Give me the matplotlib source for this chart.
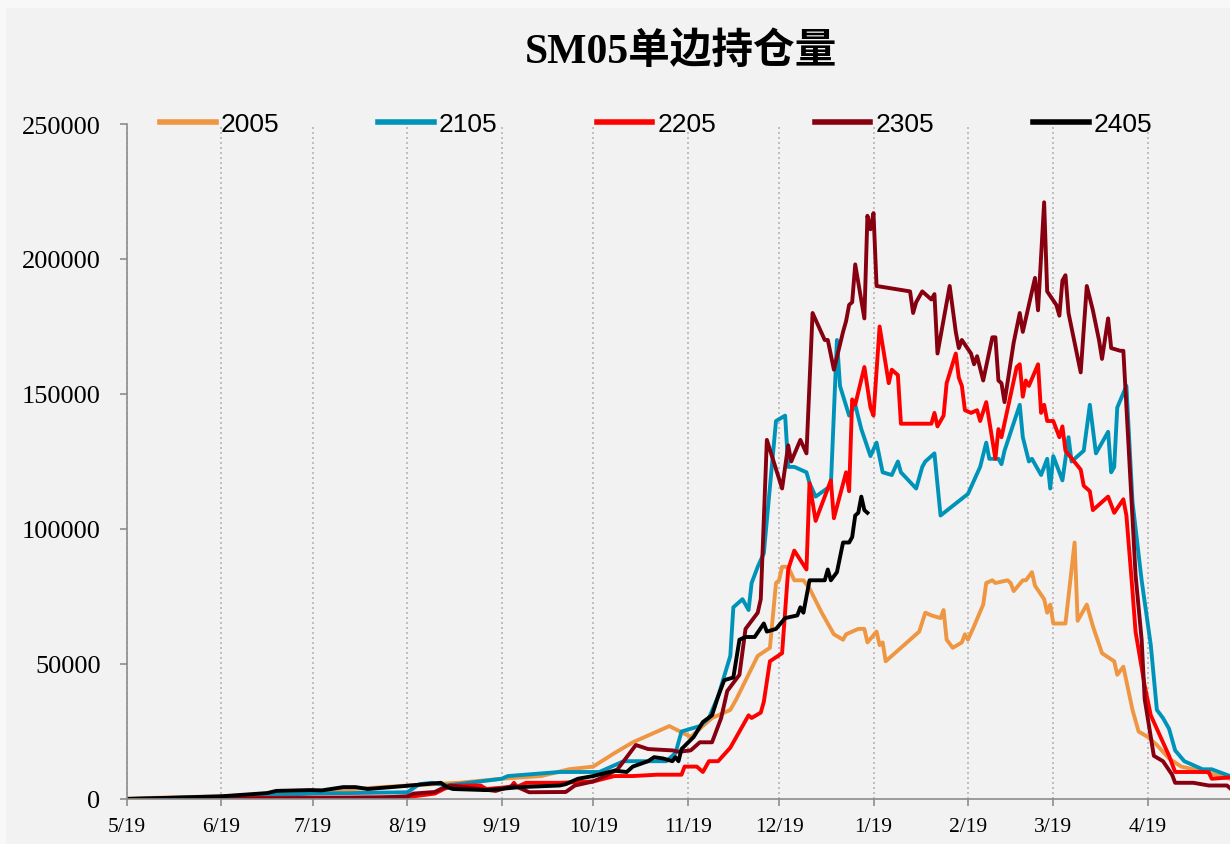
import datetime as dt
import matplotlib
matplotlib.use("Agg")
import matplotlib.pyplot as plt
from matplotlib.patches import Rectangle

# open interest (thousand lots), dates as month/day from 5/19 to 5/16 of next year
dates_2005 = ["5/19","6/19","7/19","7/30","8/19","9/5","9/19","10/2","10/11","10/19",
              "10/26","11/1","11/9","11/13","11/20","11/27","12/3","12/5","12/12","12/16",
              "12/18","12/19","12/20","12/22","12/24","12/27","12/29","1/2","1/6","1/9",
              "1/10","1/14","1/16","1/17","1/20","1/21","1/22","1/23","2/3","2/5",
              "2/7","2/10","2/11","2/12","2/14","2/17","2/18","2/19","2/21","2/24",
              "2/25","2/27","2/28","3/4","3/5","3/6","3/9","3/10","3/12","3/13",
              "3/16","3/17","3/18","3/19","3/23","3/26","3/27","3/30","4/1","4/4",
              "4/8","4/9","4/11","4/14","4/16","4/19","4/22","4/26","4/30","5/8","5/16"]
oi_2005 = [0.2,1,2.5,3.5,5,6,7.5,8.5,11,12,
           17,21,25,27,23,30,33,37,53,56,
           80,81,86,86,81,81,78,69,61,59,
           61,63,63,58,62,57,58,51,62,69,
           68,67,70,59,56,58,61,59,64,72,
           80,81,80,81,80,77,81,81,84,79,
           74,69,72,65,65,95,66,72,64,54,
           51,46,49,33,25,23,20,15,12,10,7.5]

dates_2105 = ["5/19","6/19","7/19","8/19","8/23","8/27","9/1","9/19","9/21","10/8",
              "10/21","10/29","11/4","11/12","11/15","11/17","11/23","11/26","11/29","12/3",
              "12/4","12/7","12/9","12/10","12/12","12/14","12/18","12/21","12/22","12/24",
              "12/28","12/29","12/31","1/5","1/7","1/8","1/11","1/13","1/15","1/18",
              "1/20","1/22","1/25","1/27","1/28","2/2","2/4","2/5","2/8","2/10",
              "2/19","2/23","2/25","2/26","3/1","3/2","3/3","3/8","3/9","3/11",
              "3/12","3/15","3/17","3/18","3/19","3/22","3/24","3/25","3/29","3/31",
              "4/2","4/6","4/7","4/8","4/9","4/12","4/14","4/17","4/20","4/22",
              "4/24","4/26","4/28","5/1","5/7","5/10","5/16"]
oi_2105 = [0,0.8,2,2.5,5.5,6,5,7.5,8.5,10,
           10,14,14,14,17,25,27,30,38,53,
           71,74,70,80,86,91,140,142,123,123,
           121,117,112,116,170,153,142,146,137,127,
           132,121,120,125,121,115,123,125,128,105,
           113,123,132,126,126,124,129,146,134,125,
           126,120,126,115,127,118,134,125,129,146,
           128,136,121,123,145,153,110,81,57,33,
           30,26,18,14,11,11,8.5]

dates_2205 = ["5/19","6/19","7/19","8/19","8/28","8/31","9/3","9/12","9/14","9/22",
              "9/23","9/24","9/27","10/8","10/19","10/26","11/1","11/9","11/17","11/18",
              "11/22","11/24","11/26","11/29","12/3","12/6","12/9","12/10","12/13","12/14",
              "12/16","12/20","12/22","12/24","12/28","12/29","12/31","1/5","1/6","1/10",
              "1/11","1/12","1/13","1/16","1/18","1/19","1/21","1/24","1/25","1/27",
              "1/28","2/7","2/8","2/9","2/11","2/12","2/15","2/16","2/17","2/18",
              "2/20","2/22","2/23","2/25","2/28","3/1","3/2","3/7","3/8","3/9",
              "3/10","3/11","3/14","3/15","3/16","3/17","3/19","3/21","3/22","3/23",
              "3/28","3/29","3/31","4/1","4/6","4/8","4/11","4/12","4/14","4/15",
              "4/18","4/20","4/22","4/24","4/26","4/28","5/9","5/10","5/16"]
oi_2205 = [0,0.3,0.5,0.7,2,3.7,5,5,3.7,4.5,
           6,4.5,6,6,6.5,8.5,8.5,9,9,12,
           12,10,14,14,19,25,31,30,32,36,
           51,54,85,92,85,117,103,118,104,121,
           114,148,146,160,145,142,175,154,159,157,
           139,139,143,138,142,154,165,156,153,144,
           143,144,140,147,126,137,134,160,161,149,
           155,153,161,143,146,140,140,134,138,129,
           122,116,114,107,112,106,111,105,77,62,
           42,31,26,21,16,10,10,7.5,8]

dates_2305 = ["5/19","7/19","8/10","8/19","8/21","8/28","8/30","9/2","9/17","9/23",
              "9/28","10/10","10/13","10/19","10/23","10/27","11/2","11/6","11/14","11/16",
              "11/20","11/23","11/27","11/30","12/2","12/6","12/8","12/12","12/13","12/15",
              "12/20","12/22","12/23","12/26","12/28","12/30","1/3","1/4","1/6","1/9",
              "1/10","1/11","1/12","1/13","1/16","1/17","1/18","1/19","1/20","1/31",
              "2/1","2/2","2/4","2/7","2/8","2/9","2/13","2/15","2/16","2/17",
              "2/20","2/21","2/22","2/24","2/27","2/28","3/1","3/2","3/3","3/6",
              "3/8","3/9","3/13","3/14","3/16","3/17","3/20","3/21","3/22","3/23",
              "3/24","3/28","3/30","4/1","4/3","4/4","4/6","4/7","4/10","4/11",
              "4/14","4/15","4/17","4/18","4/21","4/24","4/27","4/28","5/4","5/9",
              "5/15","5/16"]
oi_2305 = [0,0.3,0.5,1,2,2.6,3.7,5,3,5,
           2.5,2.6,5,6.5,8.5,11,20,18.5,18,17.5,
           18,21,21,30,40,46,63,69,74,133,
           115,131,125,133,128,180,170,170,159,173,
           177,183,184,198,178,216,211,217,190,188,
           180,184,188,185,187,165,190,173,167,170,
           165,161,164,155,171,171,155,154,147,169,
           180,173,193,181,221,188,183,179,192,194,
           180,158,190,181,170,163,178,167,166,166,
           104,83,59,37,16,14,9,6,6,5,
           5,4]

dates_2405 = ["5/19","6/19","7/4","7/7","7/18","7/22","7/29","8/2","8/6","8/18",
              "8/30","9/1","9/3","9/14","9/25","10/8","10/10","10/14","10/19","10/26",
              "10/30","11/1","11/6","11/8","11/11","11/14","11/15","11/16","11/17","11/21",
              "11/24","11/27","11/29","12/1","12/4","12/6","12/8","12/11","12/14","12/15",
              "12/18","12/21","12/25","12/26","12/27","12/29","1/3","1/4","1/5","1/7",
              "1/9","1/11","1/12","1/13","1/14","1/15","1/16","1/17"]
oi_2405 = [0,1,2.2,3,3.3,3.2,4.4,4.4,3.7,4.8,
           6,4.4,3.7,3.3,4.4,5,5.5,7.5,8.5,10.5,
           10,12,14,15.5,15,14,15.5,14,18.5,23,
           28.5,31,38,44,45,59,60,60,65,62,
           63,67,68,71,69,81,81,85,81,84,
           95,95,97,105,106,112,107,106]

series_names = ["2005", "2105", "2205", "2305", "2405"]
series_dates = [dates_2005, dates_2105, dates_2205, dates_2305, dates_2405]
series_vals = [oi_2005, oi_2105, oi_2205, oi_2305, oi_2405]
colors = ["#EE9641", "#0093B9", "#FF0000", "#860010", "#000000"]
tick_labels = ["5/19","6/19","7/19","8/19","9/19","10/19","11/19","12/19","1/19","2/19","3/19","4/19"]


def to_date(md):
    m, d = map(int, md.split("/"))
    year = 2022 if (m, d) >= (5, 19) else 2023
    return dt.date(year, m, d)


fig = plt.figure(figsize=(12.3, 8.45), dpi=100)
fig.patch.set_facecolor("#f8f8f8")
fig.patches.append(Rectangle((6 / 1230, 0), 1, 1 - 9 / 845, transform=fig.transFigure,
                             facecolor="#f2f2f2", edgecolor="none", zorder=-10))

ax = fig.add_axes([127 / 1230, 1 - 800 / 845, 1 - 127 / 1230, 675 / 845])
ax.set_facecolor("#f2f2f2")

for name, ds, vs, c in zip(series_names, series_dates, series_vals, colors):
    ax.plot([to_date(s) for s in ds], [v * 1000 for v in vs], color=c, lw=2.8,
            label=name, solid_joinstyle="round")

ax.set_xlim(dt.date(2022, 5, 19), dt.date(2023, 5, 16))
ax.set_ylim(0, 250000)
ax.set_yticks(range(0, 250001, 50000))

ticks = [to_date(s) for s in tick_labels]
ax.set_xticks(ticks)
ax.set_xticklabels(tick_labels, fontfamily="Liberation Serif", fontsize=15.5)
for lab in ax.get_yticklabels():
    lab.set_fontfamily("Liberation Serif")
    lab.set_fontsize(19)

ax.xaxis.grid(True, linestyle=(0, (1.2, 1.8)), color="#b5b5b5", lw=1.2)
ax.yaxis.grid(False)
ax.set_axisbelow(True)

for side in ["top", "right"]:
    ax.spines[side].set_visible(False)
for side in ["left", "bottom"]:
    ax.spines[side].set_color("#8c8c8c")
    ax.spines[side].set_linewidth(1.2)
ax.tick_params(axis="y", length=5, width=1.2, color="#8c8c8c", pad=14, labelcolor="black")
ax.tick_params(axis="x", length=5, width=1.2, color="#8c8c8c", pad=8, labelcolor="black")

leg = ax.legend(loc="center left", bbox_to_anchor=(0.03, 1.0), ncol=5, frameon=False,
                prop={"family": "Liberation Sans", "size": 19}, handlelength=2.1,
                handletextpad=0.2, columnspacing=3.75, borderpad=0, borderaxespad=0)
for h in leg.get_lines():
    h.set_linewidth(4)

fig.text(0.554, 0.938, "SM05单边持仓量", ha="center", va="center", fontsize=30,
         fontweight="bold", family=["Liberation Serif", "Noto Sans CJK SC"])

fig.savefig("out.png", dpi=100, facecolor=fig.get_facecolor())
